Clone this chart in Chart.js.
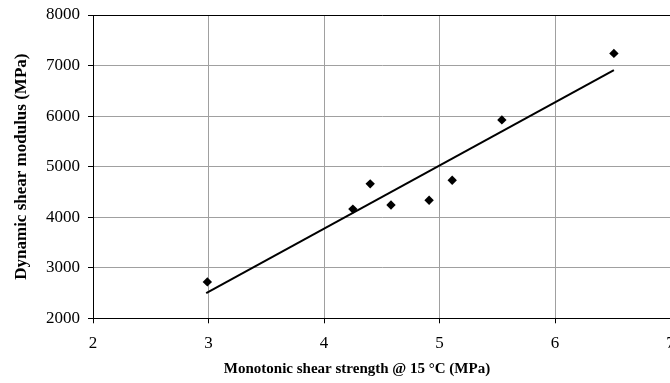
<!DOCTYPE html>
<html>
<head>
<meta charset="utf-8">
<script src="https://cdn.jsdelivr.net/npm/chart.js@4.4.1/dist/chart.umd.min.js"></script>
<style>
  html, body { margin: 0; padding: 0; background: #fff; overflow: hidden; }
  #wrap { position: relative; width: 690px; height: 383px; }
</style>
</head>
<body>
<div id="wrap"><canvas id="c" width="690" height="383"></canvas></div>
<script>
// Data
const strengthX = [2.99, 4.25, 4.40, 4.58, 4.91, 5.11, 5.54, 6.51];
const modulusY  = [2720, 4160, 4660, 4240, 4335, 4730, 5925, 7240];
const trendX = [2.98, 6.51];
const trendY = [2500, 6910];
const xTicks = [2, 3, 4, 5, 6, 7];
const yTicks = [2000, 3000, 4000, 5000, 6000, 7000, 8000];
const xTitle = 'Monotonic shear strength @ 15 °C (MPa)';
const yTitle = 'Dynamic shear modulus (MPa)';

const FONT = "'Liberation Serif', 'Times New Roman', serif";

// Draws the x-axis title centred where the reference places it (slightly left of the plot centre)
const xTitlePlugin = {
  id: 'xTitlePlugin',
  afterDraw(chart) {
    const ctx = chart.ctx;
    ctx.save();
    ctx.font = 'bold 15px ' + FONT;
    ctx.fillStyle = '#000';
    ctx.textAlign = 'center';
    ctx.textBaseline = 'middle';
    ctx.fillText(xTitle, 357, 369);
    ctx.restore();
  }
};

new Chart(document.getElementById('c'), {
  type: 'scatter',
  data: {
    datasets: [
      {
        label: 'Data',
        data: strengthX.map((x, i) => ({ x: x, y: modulusY[i] })),
        pointStyle: 'rectRot',
        pointRadius: 4.7,
        backgroundColor: '#000',
        borderColor: '#000',
        borderWidth: 0,
        showLine: false
      },
      {
        label: 'Trend',
        data: trendX.map((x, i) => ({ x: x, y: trendY[i] })),
        showLine: true,
        pointRadius: 0,
        borderColor: '#000',
        borderWidth: 2,
        fill: false
      }
    ]
  },
  plugins: [xTitlePlugin],
  options: {
    responsive: false,
    animation: false,
    layout: { padding: { top: 15, right: 19.5, left: 0, bottom: 0 } },
    plugins: { legend: { display: false }, tooltip: { enabled: false } },
    scales: {
      x: {
        type: 'linear',
        min: xTicks[0],
        max: xTicks[xTicks.length - 1],
        afterBuildTicks: s => { s.ticks = xTicks.map(v => ({ value: v })); },
        afterFit: s => { s.height = 64.7; s.paddingLeft = 0; s.paddingRight = 0; },
        border: { color: '#000', width: 1 },
        grid: {
          color: '#a0a0a0',
          lineWidth: 1,
          tickColor: '#000',
          tickLength: 5
        },
        ticks: {
          color: '#000',
          font: { family: FONT, size: 17 },
          padding: 10,
          maxRotation: 0,
          callback: v => String(v)
        },
        title: { display: false }
      },
      y: {
        type: 'linear',
        min: yTicks[0],
        max: yTicks[yTicks.length - 1],
        afterBuildTicks: s => { s.ticks = yTicks.map(v => ({ value: v })); },
        afterFit: s => { s.width = 93; s.paddingTop = 0; s.paddingBottom = 0; },
        border: { color: '#000', width: 1 },
        grid: {
          color: ctx => (ctx.tick && ctx.tick.value === 8000 ? '#000' : '#a0a0a0'),
          lineWidth: 1,
          tickColor: '#000',
          tickLength: 5
        },
        ticks: {
          color: '#000',
          font: { family: FONT, size: 17 },
          padding: 8,
          callback: v => String(v)
        },
        title: {
          display: true,
          text: yTitle,
          color: '#000',
          font: { family: FONT, size: 17, weight: 'bold' },
          padding: { top: 11, bottom: 0 }
        }
      }
    }
  }
});
</script>
</body>
</html>
